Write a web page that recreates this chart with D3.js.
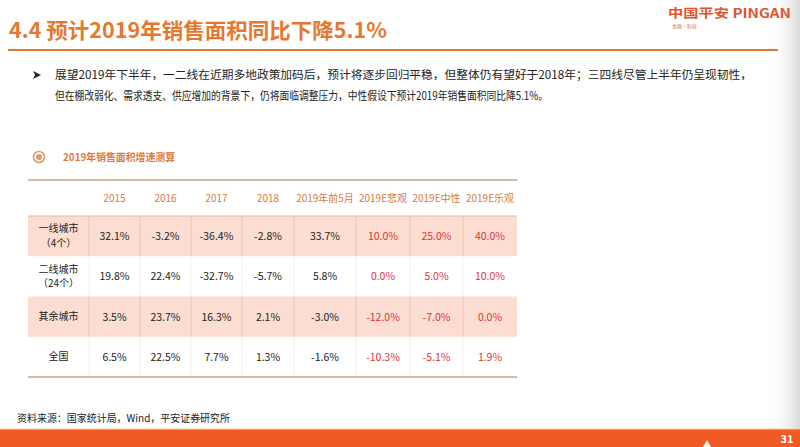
<!DOCTYPE html>
<html>
<head>
<meta charset="utf-8">
<script src="https://cdn.jsdelivr.net/npm/d3@7"></script>
<style>
  body { margin: 0; background: #fff; }
  svg { display: block; font-family: "Noto Sans CJK SC", "Noto Sans", sans-serif; }
</style>
</head>
<body>
<div id="slide"></div>
<script>
// table data
const columns = ["2015", "2016", "2017", "2018", "2019年前5月", "2019E悲观", "2019E中性", "2019E乐观"];
const rowLabels = [["一线城市", "（4个）"], ["二线城市", "（24个）"], ["其余城市"], ["全国"]];
const firstTier = [32.1, -3.2, -36.4, -2.8, 33.7, 10.0, 25.0, 40.0];
const secondTier = [19.8, 22.4, -32.7, -5.7, 5.8, 0.0, 5.0, 10.0];
const otherCities = [3.5, 23.7, 16.3, 2.1, -3.0, -12.0, -7.0, 0.0];
const national = [6.5, 22.5, 7.7, 1.3, -1.6, -10.3, -5.1, 1.9];
const rowValues = [firstTier, secondTier, otherCities, national];
const scenarioStart = 5; // 2019E columns drawn in red

// layout
const W = 800, H = 447;
const colWeights = [51, 51, 51, 52, 62, 54, 53, 54];
const tableLeft = 28, labelRight = 89, tableRight = 517;
const headerTop = 180, headerBottom = 216, tableBottom = 377;

const svg = d3.select("#slide").append("svg")
  .attr("width", W)
  .attr("height", H)
  .style("background", "white");

// right edge shadow
const defs = svg.append("defs");
const grad = defs.append("linearGradient").attr("id", "edge").attr("x1", 0).attr("x2", 1);
grad.append("stop").attr("offset", 0).attr("stop-color", "#fff").attr("stop-opacity", 0);
grad.append("stop").attr("offset", 1).attr("stop-color", "#d8d8d8");
svg.append("rect").attr("x", 768).attr("y", 0).attr("width", 32).attr("height", 429).attr("fill", "url(#edge)");

// title + rule
svg.append("text")
  .attr("x", 9).attr("y", 38)
  .attr("font-size", 21)
  .attr("font-weight", "bold")
  .attr("fill", "#E8772E")
  .attr("textLength", 378)
  .attr("lengthAdjust", "spacingAndGlyphs")
  .text("4.4 预计2019年销售面积同比下降5.1%");

svg.append("line")
  .attr("x1", 8).attr("x2", 778).attr("y1", 50).attr("y2", 50)
  .attr("stroke", "#E8772E").attr("stroke-width", 2);

// logo
svg.append("text")
  .attr("x", 668).attr("y", 18)
  .attr("font-size", 12.5)
  .attr("font-weight", "bold")
  .attr("fill", "#E4532D")
  .attr("textLength", 123)
  .attr("lengthAdjust", "spacingAndGlyphs")
  .text("中国平安 PINGAN");
svg.append("text")
  .attr("x", 672).attr("y", 28)
  .attr("font-size", 5)
  .attr("fill", "#C87A5A")
  .text("金融·科技");

// bullet paragraph
svg.append("path")
  .attr("d", "M33,71 L41,75 L33,79 L35,75 Z")
  .attr("fill", "#222");
const para = [
  { text: "展望2019年下半年，一二线在近期多地政策加码后，预计将逐步回归平稳，但整体仍有望好于2018年；三四线尽管上半年仍呈现韧性，", y: 79, len: 697 },
  { text: "但在棚改弱化、需求透支、供应增加的背景下，仍将面临调整压力，中性假设下预计2019年销售面积同比降5.1%。", y: 100, len: 493 }
];
svg.selectAll(".para").data(para).enter().append("text")
  .attr("class", "para")
  .attr("x", 55).attr("y", d => d.y)
  .attr("font-size", 11.5)
  .attr("fill", "#222")
  .attr("textLength", d => d.len)
  .attr("lengthAdjust", "spacingAndGlyphs")
  .text(d => d.text);

// section label with circle icon
svg.append("circle").attr("cx", 39).attr("cy", 157).attr("r", 5.5)
  .attr("fill", "none").attr("stroke", "#E39A6C").attr("stroke-width", 1.6);
svg.append("circle").attr("cx", 39).attr("cy", 157).attr("r", 3).attr("fill", "#E39A6C");
svg.append("text")
  .attr("x", 63).attr("y", 161)
  .attr("font-size", 10.5)
  .attr("font-weight", "bold")
  .attr("fill", "#E07B39")
  .attr("textLength", 112)
  .attr("lengthAdjust", "spacingAndGlyphs")
  .text("2019年销售面积增速测算");

// column scale from cumulative weights
const cum = [0];
colWeights.forEach(w => cum.push(cum[cum.length - 1] + w));
const colX = d3.scaleLinear().domain([0, cum[cum.length - 1]]).range([labelRight, tableRight]);
const colEdge = i => colX(cum[i]);
const colMid = i => (colX(cum[i]) + colX(cum[i + 1])) / 2;

const rowY = d3.scaleBand().domain(d3.range(rowLabels.length)).range([headerBottom, tableBottom]);

// pink stripes on rows 0 and 2
svg.selectAll(".stripe").data([0, 2]).enter().append("rect")
  .attr("class", "stripe")
  .attr("x", tableLeft).attr("y", d => rowY(d))
  .attr("width", tableRight - tableLeft).attr("height", rowY.bandwidth())
  .attr("fill", "#FBDED1");

// vertical separators
rowLabels.forEach((r, ri) => {
  const edges = [labelRight].concat(d3.range(1, columns.length).map(colEdge));
  svg.selectAll(".sep" + ri).data(edges).enter().append("line")
    .attr("x1", d => d).attr("x2", d => d)
    .attr("y1", rowY(ri)).attr("y2", rowY(ri) + rowY.bandwidth())
    .attr("stroke", ri % 2 === 0 ? "#F0C4B0" : "#F1F1F1")
    .attr("stroke-width", 1);
});

// horizontal rules
svg.append("line").attr("x1", tableLeft).attr("x2", tableRight).attr("y1", headerTop).attr("y2", headerTop)
  .attr("stroke", "#C6A685").attr("stroke-width", 1.6);
svg.append("line").attr("x1", tableLeft).attr("x2", tableRight).attr("y1", headerBottom).attr("y2", headerBottom)
  .attr("stroke", "#DDBB9C").attr("stroke-width", 1);
svg.append("line").attr("x1", tableLeft).attr("x2", tableRight).attr("y1", tableBottom).attr("y2", tableBottom)
  .attr("stroke", "#C6A685").attr("stroke-width", 1.6);

// header labels
svg.selectAll(".head").data(columns).enter().append("text")
  .attr("class", "head")
  .attr("x", (d, i) => colMid(i))
  .attr("y", (headerTop + headerBottom) / 2 + 4)
  .attr("text-anchor", "middle")
  .attr("font-size", 10)
  .attr("fill", "#D57C45")
  .text(d => d);

// row labels
rowLabels.forEach((lines, ri) => {
  const cy = rowY(ri) + rowY.bandwidth() / 2;
  lines.forEach((t, li) => {
    svg.append("text")
      .attr("x", (tableLeft + labelRight) / 2)
      .attr("y", cy + 3.5 + (li - (lines.length - 1) / 2) * 14.5)
      .attr("text-anchor", "middle")
      .attr("font-size", 10)
      .attr("fill", "#222")
      .text(t);
  });
});

// cell values
rowValues.forEach((vals, ri) => {
  svg.selectAll(".cell" + ri).data(vals).enter().append("text")
    .attr("x", (d, i) => colMid(i))
    .attr("y", rowY(ri) + rowY.bandwidth() / 2 + 4)
    .attr("text-anchor", "middle")
    .attr("font-size", 10.5)
    .attr("fill", (d, i) => i >= scenarioStart ? "#E0323C" : "#222")
    .text(d => d.toFixed(1) + "%");
});

// source note
svg.append("text")
  .attr("x", 17).attr("y", 422)
  .attr("font-size", 10)
  .attr("fill", "#222")
  .attr("textLength", 213)
  .attr("lengthAdjust", "spacingAndGlyphs")
  .text("资料来源：国家统计局，Wind，平安证券研究所");

// footer bar
svg.append("rect").attr("x", 0).attr("y", 429).attr("width", W).attr("height", H - 429).attr("fill", "#F05A24");
svg.append("line").attr("x1", 0).attr("x2", W).attr("y1", 429).attr("y2", 429).attr("stroke", "#F7C9A0").attr("stroke-width", 1);
svg.append("path").attr("d", "M703,447 L707,440 L711,447 Z").attr("fill", "#F4F4E8");
svg.append("text")
  .attr("x", 787).attr("y", 443)
  .attr("text-anchor", "middle")
  .attr("font-size", 11)
  .attr("font-weight", "bold")
  .attr("fill", "#fff")
  .text("31");
</script>
</body>
</html>
